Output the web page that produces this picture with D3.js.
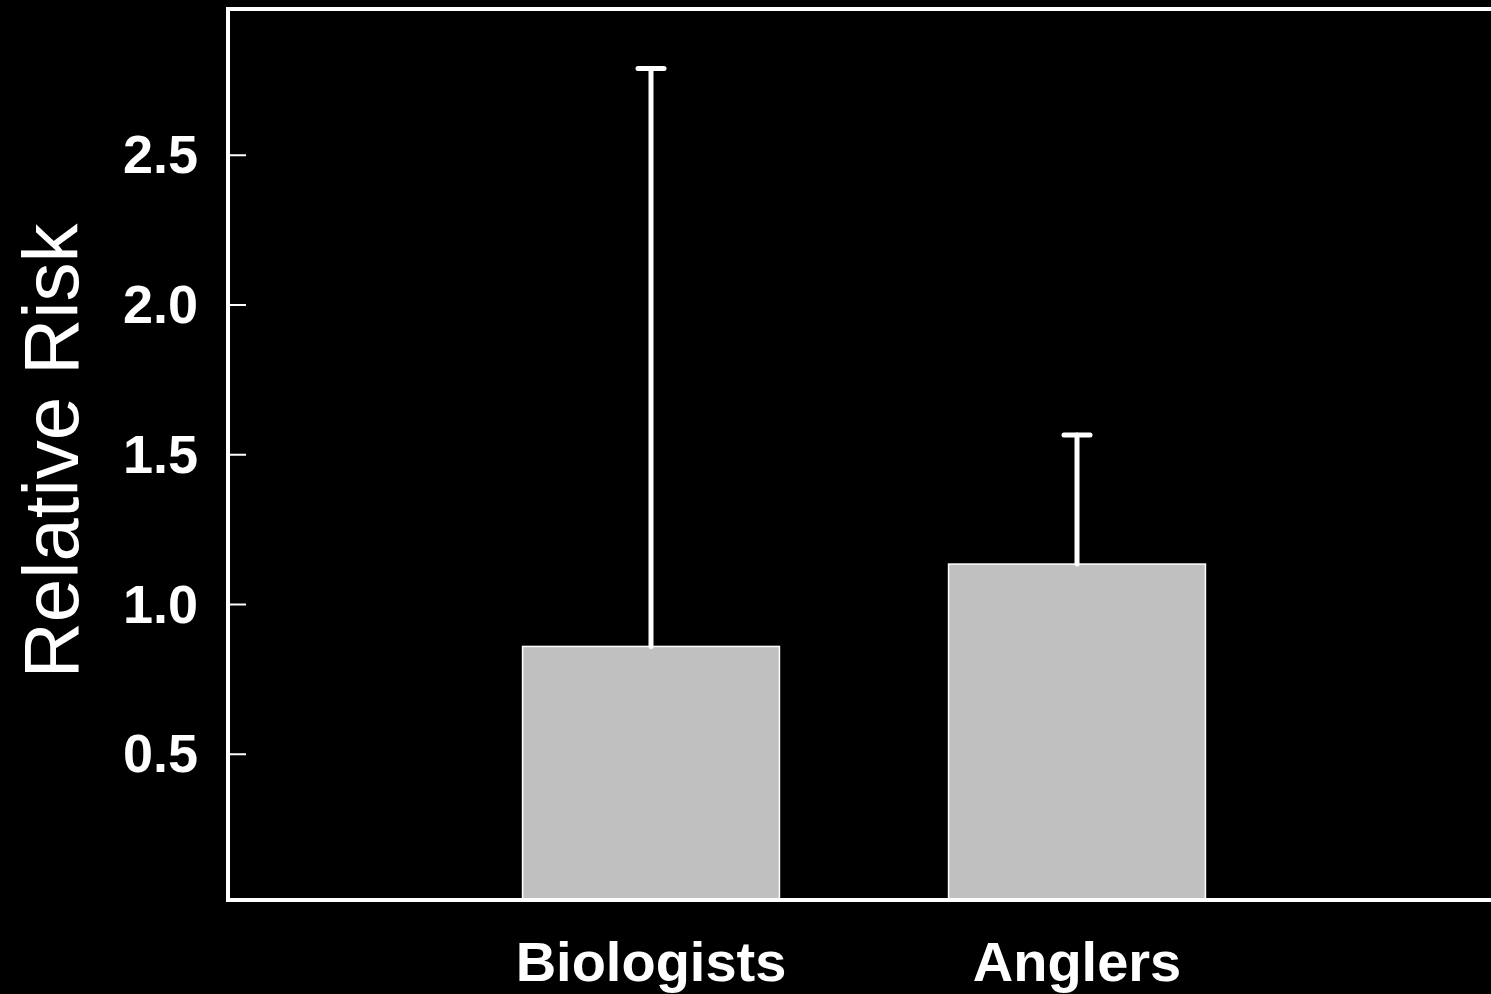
<!DOCTYPE html>
<html>
<head>
<meta charset="utf-8">
<script src="https://cdn.jsdelivr.net/npm/d3@7"></script>
<style>
  html, body { margin: 0; padding: 0; background: #000; }
  svg { display: block; }
</style>
</head>
<body>
<svg id="chart" width="1491" height="994"></svg>
<script>
// Relative risk by group, with upper confidence limits
const categories = ["Biologists", "Anglers"];
const riskValues = [0.86, 1.135];
const upperLimits = [2.79, 1.566];
const yTicks = [0.5, 1.0, 1.5, 2.0, 2.5];
const yTitle = "Relative Risk";

const W = 1491, H = 994;
const plot = { left: 228, top: 9, bottom: 900, right: W + 10 };

const svg = d3.select("#chart");
svg.append("rect").attr("width", W).attr("height", H).attr("fill", "#000");

const y = d3.scaleLinear().domain([0, 3]).range([904, 5.5]);
const x = d3.scalePoint().domain(categories).range([225, 1503]).padding(1);
const barW = x.step() * 0.603;

// Bars
svg.append("g").selectAll("rect")
  .data(categories)
  .join("rect")
  .attr("x", d => x(d) - barW / 2)
  .attr("width", barW)
  .attr("y", (d, i) => y(riskValues[i]))
  .attr("height", (d, i) => plot.bottom - y(riskValues[i]))
  .attr("fill", "#c0c0c0")
  .attr("stroke", "#ffffff")
  .attr("stroke-width", 1.5);

// Upper error whiskers
const err = svg.append("g")
  .attr("stroke", "#ffffff")
  .attr("stroke-width", 5)
  .attr("stroke-linecap", "round");
categories.forEach((c, i) => {
  err.append("line")
    .attr("x1", x(c)).attr("x2", x(c))
    .attr("y1", y(riskValues[i])).attr("y2", y(upperLimits[i]));
  err.append("line")
    .attr("x1", x(c) - 13).attr("x2", x(c) + 13)
    .attr("y1", y(upperLimits[i])).attr("y2", y(upperLimits[i]));
});

// Y axis ticks (inward) and labels
const yAxis = svg.append("g");
yAxis.selectAll("line")
  .data(yTicks)
  .join("line")
  .attr("x1", plot.left).attr("x2", plot.left + 18)
  .attr("y1", d => y(d)).attr("y2", d => y(d))
  .attr("stroke", "#fff").attr("stroke-width", 2);
yAxis.selectAll("text")
  .data(yTicks)
  .join("text")
  .attr("x", 198)
  .attr("y", d => y(d) + 18)
  .attr("text-anchor", "end")
  .attr("fill", "#fff")
  .attr("font-family", "Liberation Sans, Arial, sans-serif")
  .attr("font-weight", "bold")
  .attr("font-size", 54)
  .text(d => d3.format(".1f")(d));

// Category labels
svg.append("g").selectAll("text")
  .data(categories)
  .join("text")
  .attr("x", d => x(d))
  .attr("y", 981)
  .attr("text-anchor", "middle")
  .attr("fill", "#fff")
  .attr("font-family", "Liberation Sans, Arial, sans-serif")
  .attr("font-weight", "bold")
  .attr("font-size", 56)
  .text(d => d);

// Y axis title
svg.append("text")
  .attr("transform", "translate(78,451) rotate(-90)")
  .attr("text-anchor", "middle")
  .attr("fill", "#fff")
  .attr("font-family", "Liberation Sans, Arial, sans-serif")
  .attr("font-size", 78)
  .text(yTitle);

// Frame: left, top and bottom edges
const frame = svg.append("g").attr("stroke", "#fff").attr("stroke-width", 4).attr("fill", "none");
frame.append("path")
  .attr("d", `M${plot.right},${plot.top} H${plot.left} V${plot.bottom} H${plot.right}`)
  .attr("stroke-linejoin", "miter");
</script>
</body>
</html>
